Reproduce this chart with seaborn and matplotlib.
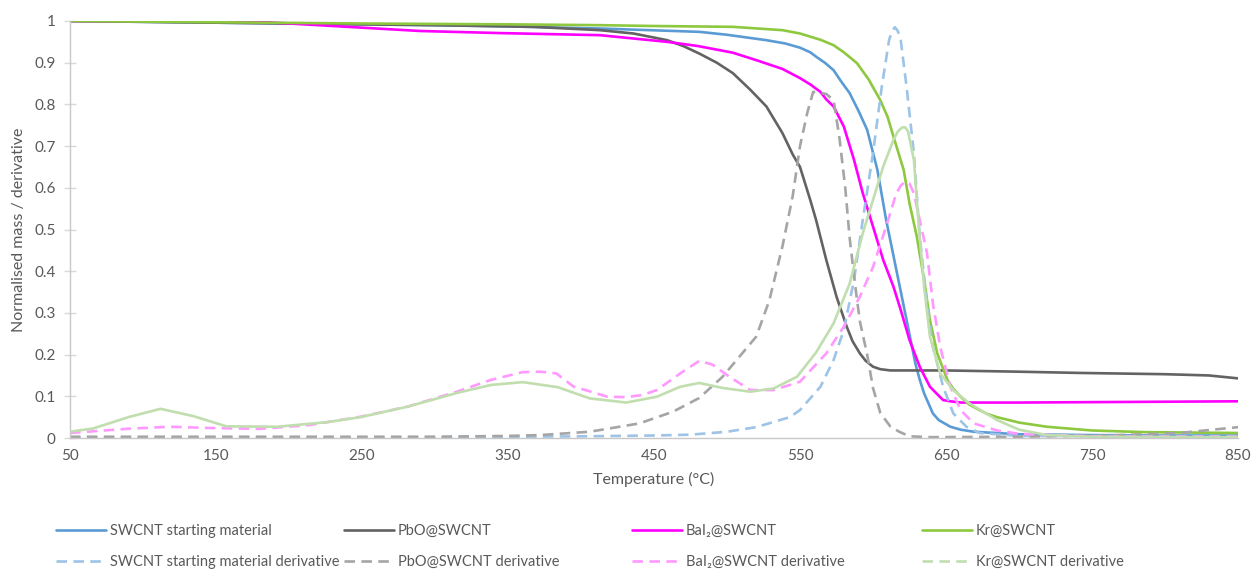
"""
TGA curves: normalised mass and derivative for filled SWCNTs
"""
import matplotlib
matplotlib.use("Agg")
import matplotlib.pyplot as plt
from matplotlib.lines import Line2D
import seaborn as sns

# --- data (temperature in °C) ---
SWCNT_T = [50, 100, 150, 200, 250, 300, 350, 413, 481, 500, 527, 540, 550, 557, 562, 567, 573, 578,
           584, 590, 596, 603, 609, 616, 623, 629, 632, 635, 641, 645, 653, 660, 669, 700, 750, 800, 850]
SWCNT_MASS = [1.0, 0.998, 0.996, 0.994, 0.992, 0.99, 0.987, 0.982, 0.974, 0.967, 0.954, 0.946, 0.936,
              0.925, 0.912, 0.9, 0.882, 0.856, 0.827, 0.785, 0.739, 0.643, 0.523, 0.403, 0.283,
              0.179, 0.14, 0.107, 0.059, 0.043, 0.027, 0.02, 0.015, 0.009, 0.007, 0.006, 0.006]

PBO_T = [50, 100, 150, 200, 250, 300, 367, 413, 436, 459, 470, 481, 493, 504, 516, 527, 538, 545,
         550, 557, 561, 568, 575, 582, 586, 591, 595, 600, 605, 612, 650, 700, 742, 800, 830, 850]
PBO_MASS = [1.0, 0.998, 0.996, 0.994, 0.992, 0.99, 0.986, 0.978, 0.97, 0.954, 0.94, 0.922, 0.9,
            0.875, 0.835, 0.795, 0.731, 0.68, 0.65, 0.571, 0.523, 0.427, 0.339, 0.267, 0.232,
            0.203, 0.185, 0.171, 0.165, 0.162, 0.162, 0.159, 0.156, 0.153, 0.15, 0.143]

BAI_T = [50, 100, 150, 180, 210, 250, 290, 345, 413, 459, 480, 504, 521, 538, 550, 557, 564, 568,
         573, 580, 587, 593, 600, 607, 614, 619, 625, 632, 639, 644, 648, 653, 660, 700, 800, 850]
BAI_MASS = [1.0, 1.0, 1.0, 0.998, 0.992, 0.984, 0.976, 0.971, 0.966, 0.95, 0.94, 0.924, 0.905,
            0.885, 0.863, 0.848, 0.83, 0.812, 0.795, 0.747, 0.667, 0.587, 0.507, 0.427, 0.363,
            0.307, 0.235, 0.171, 0.123, 0.105, 0.091, 0.088, 0.085, 0.085, 0.087, 0.088]

KR_T = [50, 150, 250, 350, 413, 450, 504, 538, 550, 564, 573, 580, 589, 597, 605, 610, 614, 621,
        625, 630, 635, 639, 644, 651, 655, 660, 666, 673, 678, 685, 700, 719, 750, 787, 850]
KR_MASS = [1.0, 0.997, 0.994, 0.992, 0.99, 0.988, 0.986, 0.978, 0.97, 0.955, 0.942, 0.925, 0.899,
           0.86, 0.81, 0.77, 0.723, 0.643, 0.563, 0.483, 0.379, 0.283, 0.203, 0.139, 0.118,
           0.099, 0.08, 0.067, 0.058, 0.05, 0.037, 0.027, 0.018, 0.014, 0.012]

SWCNT_D_T = [50, 200, 300, 400, 450, 475, 500, 520, 543, 550, 564, 573, 580, 587, 593, 600, 606,
             611, 613, 615, 617, 619, 623, 628, 632, 637, 641, 648, 655, 664, 673, 700, 850]
SWCNT_DERIV = [0.0, 0.001, 0.002, 0.004, 0.006, 0.008, 0.015, 0.026, 0.05, 0.067, 0.123, 0.187,
               0.259, 0.379, 0.523, 0.683, 0.842, 0.954, 0.976, 0.985, 0.976, 0.954, 0.842, 0.683,
               0.483, 0.323, 0.219, 0.123, 0.059, 0.027, 0.012, 0.005, 0.004]

PBO_D_T = [50, 300, 350, 372, 406, 440, 463, 481, 497, 520, 529, 538, 545, 550, 555, 559, 568, 573,
           577, 581, 584, 588, 591, 596, 600, 605, 612, 618, 625, 640, 700, 760, 810, 850]
PBO_DERIV = [0.003, 0.003, 0.005, 0.007, 0.015, 0.035, 0.063, 0.096, 0.147, 0.243, 0.33, 0.46,
             0.58, 0.70, 0.78, 0.83, 0.825, 0.81, 0.72, 0.6, 0.48, 0.36, 0.28, 0.2, 0.12, 0.06,
             0.027, 0.015, 0.004, 0.002, 0.003, 0.006, 0.012, 0.026]

BAI_D_T = [50, 89, 118, 146, 180, 214, 249, 281, 315, 338, 360, 372, 383, 395, 406, 418, 431, 442,
           452, 468, 481, 490, 502, 516, 532, 550, 568, 580, 591, 600, 609, 616, 619, 622, 625,
           628, 632, 637, 641, 646, 653, 660, 669, 685, 700, 750, 850]
BAI_DERIV = [0.012, 0.022, 0.027, 0.024, 0.022, 0.031, 0.051, 0.075, 0.111, 0.139, 0.158, 0.159,
             0.155, 0.123, 0.112, 0.099, 0.098, 0.103, 0.115, 0.155, 0.185, 0.176, 0.146, 0.115,
             0.115, 0.135, 0.203, 0.267, 0.339, 0.41, 0.507, 0.587, 0.605, 0.615, 0.61, 0.587,
             0.523, 0.443, 0.323, 0.219, 0.123, 0.067, 0.035, 0.018, 0.01, 0.004, 0.003]

KR_D_T = [50, 66, 90, 112, 135, 157, 192, 226, 249, 281, 315, 338, 360, 384, 406, 431, 452, 468,
          481, 497, 516, 532, 548, 561, 573, 584, 593, 600, 607, 614, 617, 620, 622, 624, 628, 631,
          635, 639, 646, 655, 666, 685, 700, 719, 750, 850]
KR_DERIV = [0.015, 0.023, 0.05, 0.07, 0.052, 0.028, 0.027, 0.038, 0.05, 0.075, 0.108, 0.127,
            0.134, 0.122, 0.095, 0.085, 0.099, 0.123, 0.132, 0.12, 0.111, 0.119, 0.147, 0.205,
            0.275, 0.37, 0.491, 0.571, 0.651, 0.715, 0.735, 0.745, 0.745, 0.735, 0.667, 0.523,
            0.363, 0.243, 0.155, 0.115, 0.083, 0.043, 0.02, 0.007, 0.003, 0.002]

LABELS = ["SWCNT starting material", "PbO@SWCNT", "BaI₂@SWCNT", "Kr@SWCNT"]
MASS_COLORS = ["#5B9BD5", "#636363", "#FF00FF", "#8DC83F"]
DERIV_COLORS = ["#9DC3E6", "#A5A5A5", "#FF99FF", "#C0DEAE"]
DASH = (0, (4, 2.4))

sns.set_theme(style="white")
plt.rcParams["font.family"] = ["Lato", "DejaVu Sans"]

W, H = 1254, 573
fig = plt.figure(figsize=(W / 100, H / 100), dpi=100)
ax = fig.add_axes([70 / W, 1 - 438 / H, (1238 - 70) / W, (438 - 21) / H])

mass_series = [(SWCNT_T, SWCNT_MASS), (PBO_T, PBO_MASS), (BAI_T, BAI_MASS), (KR_T, KR_MASS)]
deriv_series = [(SWCNT_D_T, SWCNT_DERIV), (PBO_D_T, PBO_DERIV), (BAI_D_T, BAI_DERIV), (KR_D_T, KR_DERIV)]

for (t, v), col in zip(mass_series, MASS_COLORS):
    sns.lineplot(x=t, y=v, ax=ax, color=col, linewidth=1.9, legend=False)
for i, ((t, v), col) in enumerate(zip(deriv_series, DERIV_COLORS)):
    # the Kr derivative is drawn solid in the plot area (dashed only in the legend)
    ls = "-" if i == 3 else DASH
    sns.lineplot(x=t, y=v, ax=ax, color=col, linewidth=1.9, linestyle=ls, legend=False)

ax.set_xlim(50, 850)
ax.set_ylim(0, 1)
ax.set_xticks(range(50, 851, 100))
ax.set_yticks([i / 10 for i in range(11)])
ax.set_yticklabels(["0"] + [f"{i / 10:.1f}" for i in range(1, 10)] + ["1"])
ax.tick_params(axis="x", length=0, pad=8, labelsize=11, labelcolor="#595959")
ax.tick_params(axis="y", direction="inout", length=9, width=1, color="#D9D9D9",
               pad=6, labelsize=11, labelcolor="#595959", left=True)
for side in ["top", "right"]:
    ax.spines[side].set_visible(False)
for side in ["left", "bottom"]:
    ax.spines[side].set_color("#C8C8C8")
    ax.spines[side].set_linewidth(1)

ax.set_xlabel("Temperature (°C)", fontsize=11.5, color="#595959", labelpad=6)
ax.set_ylabel("Normalised mass / derivative", fontsize=11.5, color="#595959", labelpad=6)

# Excel-style legend: four equal-width columns, solids on top row, derivatives below
col_x = [56, 344, 632, 922]
for i, x in enumerate(col_x):
    handles = [Line2D([], [], color=MASS_COLORS[i], lw=1.9),
               Line2D([], [], color=DERIV_COLORS[i], lw=1.9, linestyle=DASH)]
    fig.legend(handles, [LABELS[i], LABELS[i] + " derivative"],
               loc="upper left", bbox_to_anchor=(x / W, 1 - 524 / H), frameon=False,
               fontsize=10.5, handlelength=3.4, handletextpad=0.3, labelspacing=1.15,
               borderpad=0, borderaxespad=0, labelcolor="#595959")

fig.savefig("out.png", dpi=100)
